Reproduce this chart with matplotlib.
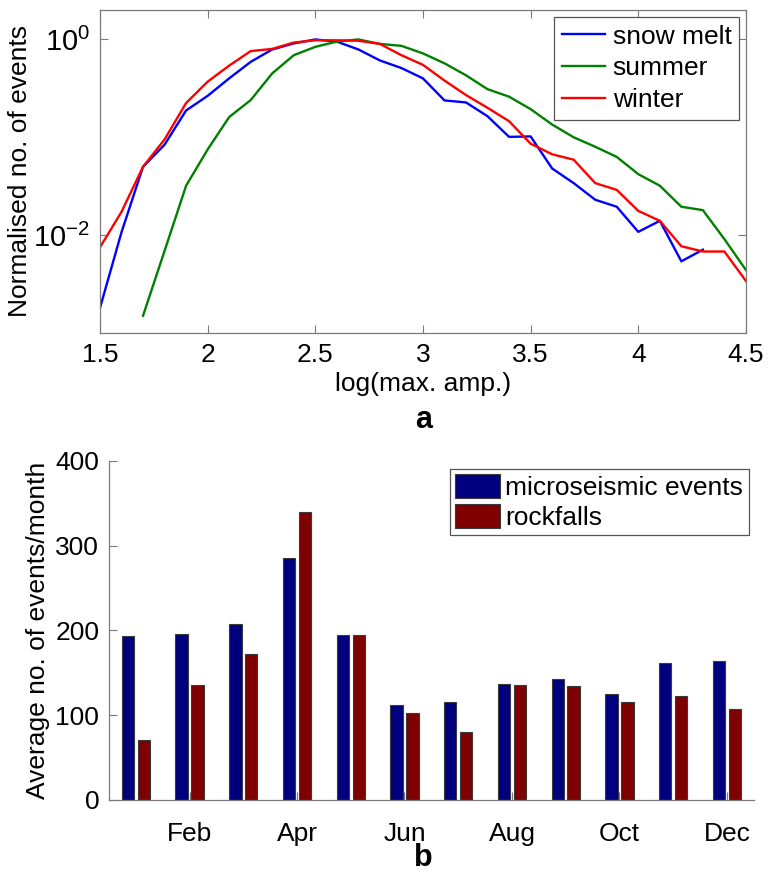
import numpy as np
import matplotlib
matplotlib.use("Agg")
import matplotlib.pyplot as plt
from matplotlib.ticker import FixedLocator, NullLocator

plt.rcParams['font.family'] = ['Liberation Sans', 'DejaVu Sans']
plt.rcParams['mathtext.fontset'] = 'custom'
plt.rcParams['mathtext.rm'] = 'Liberation Sans'
plt.rcParams['mathtext.it'] = 'Liberation Sans'

# ---------------- data: panel a ----------------
amp_snow = [1.5, 1.6, 1.7, 1.8, 1.9, 2.0, 2.1, 2.2, 2.3, 2.4, 2.5, 2.6, 2.7, 2.8, 2.9, 3.0,
            3.1, 3.2, 3.3, 3.4, 3.5, 3.6, 3.7, 3.8, 3.9, 4.0, 4.1, 4.2, 4.3]
snow_melt = [0.0018, 0.0107, 0.050, 0.084, 0.188, 0.265, 0.40, 0.59, 0.79, 0.91, 1.0, 0.95,
             0.79, 0.61, 0.51, 0.40, 0.238, 0.227, 0.164, 0.101, 0.102, 0.048, 0.034,
             0.023, 0.0195, 0.0108, 0.014, 0.0054, 0.0071]

amp_summer = [1.7, 1.8, 1.9, 2.0, 2.1, 2.2, 2.3, 2.4, 2.5, 2.6, 2.7, 2.8, 2.9, 3.0,
              3.1, 3.2, 3.3, 3.4, 3.5, 3.6, 3.7, 3.8, 3.9, 4.0, 4.1, 4.2, 4.3, 4.4, 4.5]
summer = [0.0015, 0.0069, 0.032, 0.075, 0.161, 0.24, 0.45, 0.69, 0.84, 0.95, 1.0, 0.90,
          0.86, 0.72, 0.57, 0.43, 0.31, 0.26, 0.194, 0.135, 0.10, 0.080, 0.063, 0.042,
          0.032, 0.0195, 0.018, 0.0091, 0.0044]

amp_winter = [1.5, 1.6, 1.7, 1.8, 1.9, 2.0, 2.1, 2.2, 2.3, 2.4, 2.5, 2.6, 2.7, 2.8, 2.9, 3.0,
              3.1, 3.2, 3.3, 3.4, 3.5, 3.6, 3.7, 3.8, 3.9, 4.0, 4.1, 4.2, 4.3, 4.4, 4.5]
winter = [0.0075, 0.0173, 0.050, 0.095, 0.224, 0.37, 0.54, 0.76, 0.80, 0.93, 0.98, 0.98,
          0.97, 0.90, 0.69, 0.55, 0.38, 0.27, 0.20, 0.146, 0.086, 0.067, 0.059, 0.034,
          0.029, 0.0177, 0.014, 0.0077, 0.0068, 0.0068, 0.0034]

# ---------------- data: panel b ----------------
months = ['Jan', 'Feb', 'Mar', 'Apr', 'May', 'Jun', 'Jul', 'Aug', 'Sep', 'Oct', 'Nov', 'Dec']
microseismic = [193, 196, 207, 285, 195, 112, 115, 137, 143, 125, 161, 164]
rockfalls = [71, 135, 172, 340, 195, 103, 80, 135, 134, 116, 122, 107]

FS = 19
SPINE = '#7a7a7a'

fig = plt.figure(figsize=(7.75, 8.76), dpi=100)

# ---------------- panel a ----------------
ax1 = fig.add_axes([0.129, 0.6199, 0.8335, 0.3687])
ax1.plot(amp_snow, snow_melt, color='#0000ff', lw=1.7, label='snow melt')
ax1.plot(amp_summer, summer, color='#008000', lw=1.7, label='summer')
ax1.plot(amp_winter, winter, color='#ff0000', lw=1.7, label='winter')
ax1.set_yscale('log')
ax1.set_xlim(1.5, 4.5)
ax1.set_ylim(1e-3, 2)
ax1.set_xticks([1.5, 2, 2.5, 3, 3.5, 4, 4.5])
ax1.set_xticklabels(['1.5', '2', '2.5', '3', '3.5', '4', '4.5'])
ax1.yaxis.set_major_locator(FixedLocator([1e-2, 1e0]))
ax1.yaxis.set_minor_locator(NullLocator())
ax1.set_yticklabels([r'$10^{-2}$', r'$10^{0}$'])
ax1.tick_params(direction='in', length=6, width=0.8, color=SPINE, labelsize=FS,
                top=True, right=True, pad=7)
ax1.tick_params(axis='y', labelsize=FS + 2)
for s in ax1.spines.values():
    s.set_color(SPINE)
    s.set_linewidth(0.9)
ax1.set_xlabel('log(max. amp.)', fontsize=FS, labelpad=4)
ax1.set_ylabel('Normalised no. of events', fontsize=FS, labelpad=1)
leg1 = ax1.legend(loc='upper right', fontsize=FS, fancybox=False, framealpha=1,
                  edgecolor='#555555', handlelength=1.6, handletextpad=0.3,
                  labelspacing=0.3, borderpad=0.3, borderaxespad=0.25)
leg1.get_frame().set_linewidth(0.9)
fig.text(0.546, 0.520, 'a', fontsize=FS + 3, fontweight='bold', ha='center', va='center')

# ---------------- panel b ----------------
ax2 = fig.add_axes([0.1406, 0.0868, 0.832, 0.3873])
x = np.arange(1, len(months) + 1)
w = 0.23
off = 0.148
ax2.bar(x - off, microseismic, width=w, color='#00007f', edgecolor='#3a3a3a',
        linewidth=0.8, label='microseismic events')
ax2.bar(x + off, rockfalls, width=w, color='#7f0000', edgecolor='#3a3a3a',
        linewidth=0.8, label='rockfalls')
ax2.set_axisbelow(True)
ax2.set_xlim(0.5, 12.5)
ax2.set_ylim(0, 400)
ax2.set_yticks([0, 100, 200, 300, 400])
ax2.set_xticks(x[1::2])
ax2.set_xticklabels(months[1::2])
ax2.tick_params(direction='in', length=6, width=0.8, color=SPINE, labelsize=FS, pad=7)
ax2.tick_params(axis='x', pad=16)
ax2.spines['top'].set_visible(False)
ax2.spines['right'].set_visible(False)
for s in ('left', 'bottom'):
    ax2.spines[s].set_color(SPINE)
    ax2.spines[s].set_linewidth(0.9)
ax2.set_ylabel('Average no. of events/month', fontsize=FS, labelpad=4)
leg2 = ax2.legend(loc='upper right', bbox_to_anchor=(0.992, 0.975), fontsize=FS,
                  fancybox=False, framealpha=1, edgecolor='#555555',
                  handlelength=1.7, handleheight=1.0, handletextpad=0.2,
                  labelspacing=0.15, borderpad=0.2, borderaxespad=0.0)
leg2.get_frame().set_linewidth(0.9)
fig.text(0.546, 0.021, 'b', fontsize=FS + 3, fontweight='bold', ha='center', va='center')

fig.savefig('out.png', dpi=100)
